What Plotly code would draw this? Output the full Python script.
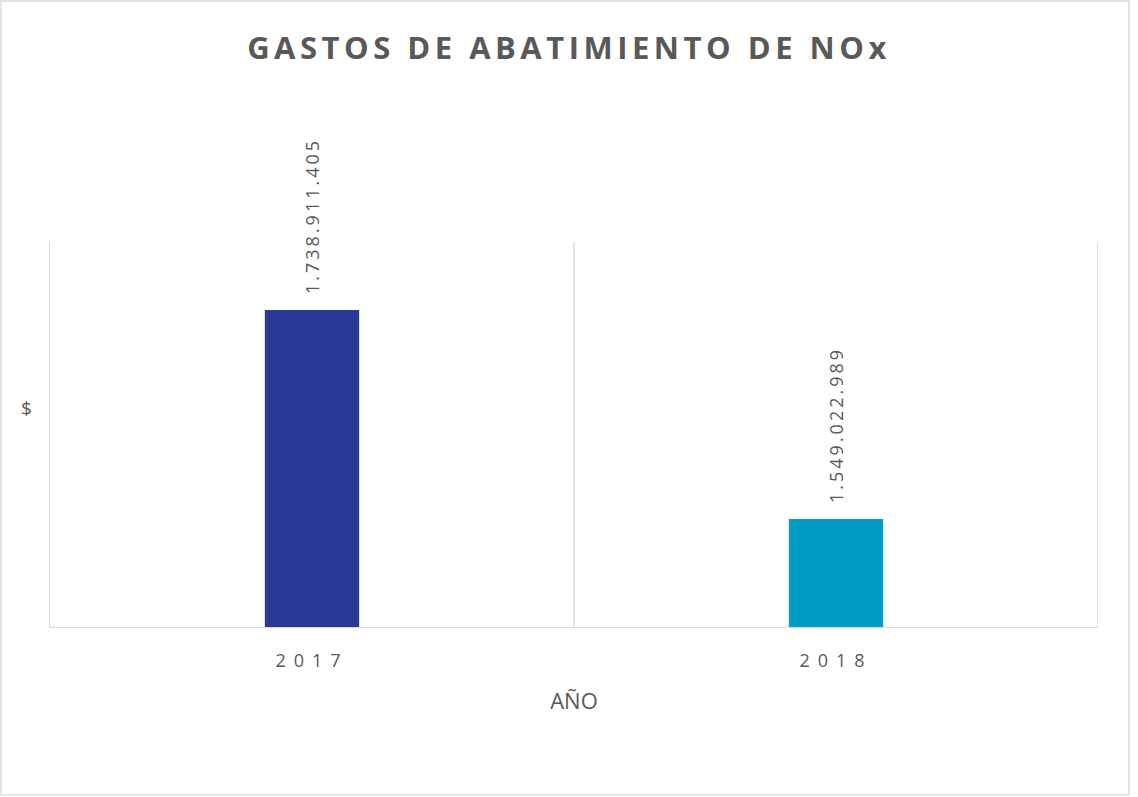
import plotly.graph_objects as go

# datos
anios = ["2017", "2018"]
gastos = [1738911405, 1549022989]
colores = ["#2B3A97", "#009CC6"]

GRIS = "#595959"
LINEA = "#D9D9D9"
FUENTE = "Open Sans, Liberation Sans, sans-serif"


def miles(v):
    # formato con punto como separador de miles
    return f"{v:,}".replace(",", ".")


def espaciado(txt, px):
    return f'<span style="letter-spacing:{px}px">{txt}</span>'


fig = go.Figure()
fig.add_trace(go.Bar(
    x=anios, y=gastos,
    marker=dict(color=colores, line=dict(width=0)),
    width=0.18,
    showlegend=False,
    hoverinfo="x+y",
))

# etiquetas de datos rotadas (x por índice de categoría)
for i, g in enumerate(gastos):
    fig.add_annotation(
        x=i, y=g, text=espaciado(miles(g), 3),
        textangle=-90, showarrow=False,
        yanchor="bottom", yshift=14,
        font=dict(family=FUENTE, size=18, color=GRIS),
    )

# líneas verticales entre categorías y borde derecho
for xv in [0.5, 1.5]:
    fig.add_shape(type="line", xref="x", yref="paper",
                  x0=xv, x1=xv, y0=0, y1=1,
                  line=dict(color=LINEA, width=1.3), layer="below")

# borde exterior del gráfico
fig.add_shape(type="rect", xref="paper", yref="paper",
              x0=-0.0468, x1=1.0296, y0=-0.436, y1=1.626,
              line=dict(color=LINEA, width=1.3))

# título del eje y
fig.add_annotation(
    xref="paper", yref="paper", x=-0.0225, y=0.57,
    text="$", showarrow=False, xanchor="center",
    font=dict(family=FUENTE, size=19, color=GRIS),
)

fig.update_layout(
    width=1138, height=797,
    margin=dict(l=50, r=40, t=242, b=170),
    paper_bgcolor="white", plot_bgcolor="white",
    title=dict(
        text="<b>" + espaciado("GASTOS DE ABATIMIENTO DE NOx", 4.5) + "</b>",
        x=0.5, xanchor="center", y=0.94, yanchor="middle",
        font=dict(family=FUENTE, size=31, color=GRIS),
    ),
)

fig.update_xaxes(
    type="category", range=[-0.5, 1.5],
    tickvals=anios, ticktext=[espaciado(a, 8) for a in anios],
    tickfont=dict(family=FUENTE, size=18, color=GRIS),
    ticklabelstandoff=17,
    showgrid=False, showline=True, linecolor=LINEA, linewidth=1.3,
    ticks="", ticklen=0,
    title=dict(text="AÑO", font=dict(family=FUENTE, size=22, color=GRIS), standoff=22),
    fixedrange=True,
)
fig.update_yaxes(
    range=[1450900000, 1800700000],
    showticklabels=False, showgrid=False, zeroline=False,
    showline=True, linecolor=LINEA, linewidth=1.3,
    ticks="", fixedrange=True,
)

fig.write_html("out.html", config={"displayModeBar": False},
               post_script="document.body.style.margin='0';")
